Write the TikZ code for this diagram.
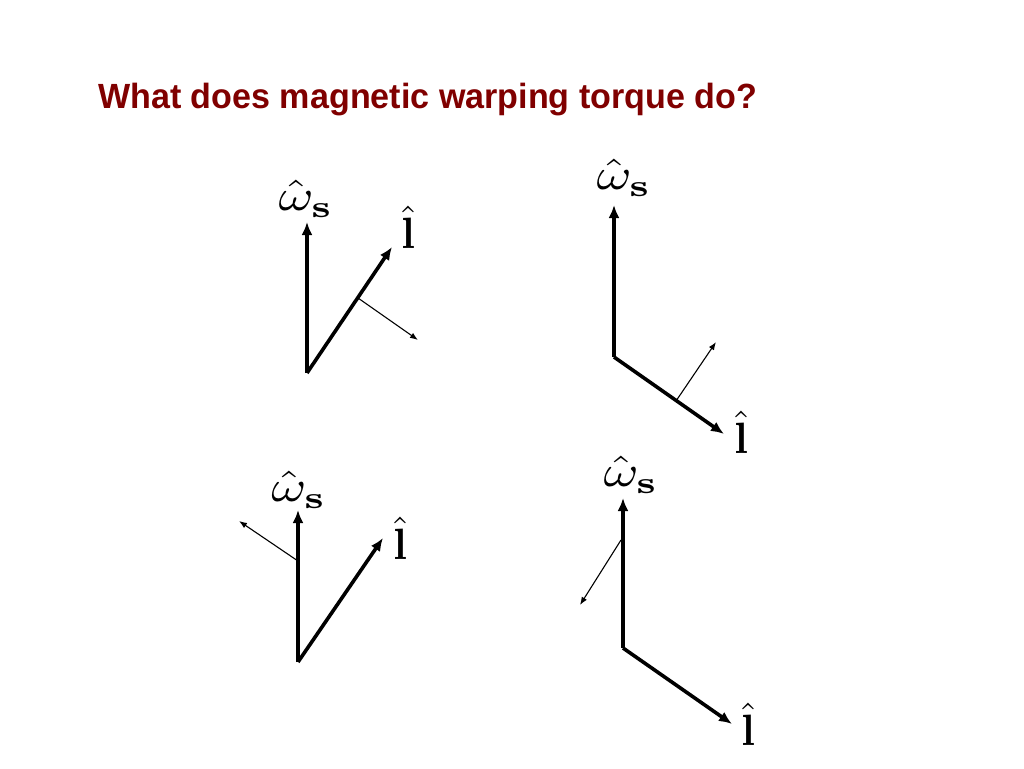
\documentclass[tikz,border=0pt]{standalone}
\usepackage{graphicx}
\usepackage[no-math]{fontspec}
\newfontfamily\titlefont{Liberation Sans}
\usetikzlibrary{arrows.meta}
\definecolor{titlered}{HTML}{800000}
\tikzset{
  bigvec/.style={line width=3.6pt,-{Latex[length=13pt,width=11pt]}},
  torq/.style={line width=1.1pt,-{Latex[length=8pt,width=6pt]}},
  lbl/.style={inner sep=0pt,anchor=center},
  ttl/.style={inner sep=0pt,anchor=base west,text=titlered,font=\titlefont\fontsize{35}{40}\selectfont\bfseries}
}
\newcommand{\wlab}{\resizebox*{55pt}{37pt}{$\hat{\omega}_{\mathbf{s}}$}}
\newcommand{\llab}{\resizebox*{14pt}{42pt}{$\hat{\mathbf{l}}$}}
\begin{document}
\begin{tikzpicture}[x=1pt,y=-1pt]
\useasboundingbox (0,0) rectangle (1024,768);
\node[ttl] (title) at (98,108) {\resizebox{659pt}{\height}{What does magnetic warping torque do?}};
% diagram 1
\coordinate (o1) at (307,373);
\coordinate (w1) at (307,222);
\coordinate (l1) at (392,247);
\coordinate (s1) at (358,298);
\coordinate (e1) at (418,340);
\draw[bigvec] (o1) -- (w1);
\draw[bigvec] (o1) -- (l1);
\draw[torq] (s1) -- (e1);
\node[lbl] (wl1) at (306,199) {\wlab};
\node[lbl] (ll1) at (408,227) {\llab};
% diagram 2
\coordinate (o2) at (614,357);
\coordinate (w2) at (614,205);
\coordinate (l2) at (724,434);
\coordinate (s2) at (676,401);
\coordinate (e2) at (716,342);
\draw[bigvec] (o2) -- (w2);
\draw[bigvec] (o2) -- (l2);
\draw[torq] (s2) -- (e2);
\node[lbl] (wl2) at (624,178) {\wlab};
\node[lbl] (ll2) at (741,432) {\llab};
% diagram 3
\coordinate (o3) at (298,662);
\coordinate (w3) at (298,510);
\coordinate (l3) at (383,538);
\coordinate (s3) at (298,561);
\coordinate (e3) at (239,521);
\draw[bigvec] (o3) -- (w3);
\draw[bigvec] (o3) -- (l3);
\draw[torq] (s3) -- (e3);
\node[lbl] (wl3) at (299,490) {\wlab};
\node[lbl] (ll3) at (400,538) {\llab};
% diagram 4
\coordinate (o4) at (623,648);
\coordinate (w4) at (623,498);
\coordinate (l4) at (732,724);
\coordinate (s4) at (621,540);
\coordinate (e4) at (580,605);
\draw[bigvec] (o4) -- (w4);
\draw[bigvec] (o4) -- (l4);
\draw[torq] (s4) -- (e4);
\node[lbl] (wl4) at (631,475) {\wlab};
\node[lbl] (ll4) at (748,724) {\llab};
\end{tikzpicture}
\end{document}
